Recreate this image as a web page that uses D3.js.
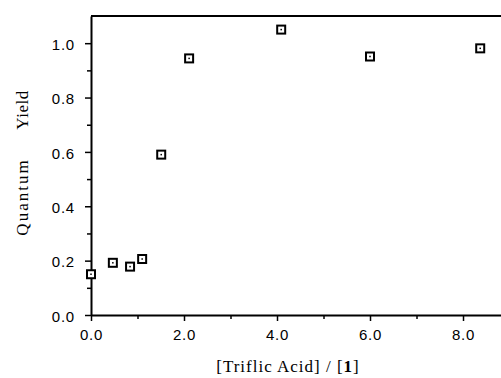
<!DOCTYPE html>
<html>
<head>
<meta charset="utf-8">
<script src="https://d3js.org/d3.v7.min.js"></script>
<style>
body { margin: 0; background: #fff; }
</style>
</head>
<body>
<script>
// values
let acidRatio = [0.0, 0.47, 0.84, 1.10, 1.51, 2.11, 4.09, 6.0, 8.37];
let quantumYield = [0.15, 0.192, 0.178, 0.206, 0.59, 0.944, 1.05, 0.951, 0.981];
let xTicks = [0, 2, 4, 6, 8];
let xMinor = [1, 3, 5, 7];
let yTicks = [0, 0.2, 0.4, 0.6, 0.8, 1.0];
let yMinor = [0.1, 0.3, 0.5, 0.7, 0.9];

let width = 501, height = 378;
let margin = {top: 16, right: 0, bottom: 63, left: 91};

let svg = d3.select("body").append("svg")
    .attr("width", width)
    .attr("height", height);

let x = d3.scaleLinear()
    .domain([0, 8.817])
    .range([margin.left, width - margin.right]);
let y = d3.scaleLinear()
    .domain([0, 1.1])
    .range([height - margin.bottom, margin.top]);

let tickFont = "'Liberation Sans', Arial, sans-serif";

let x_axis = g => g
    .attr("transform", `translate(0, ${height - margin.bottom})`)
    .call(d3.axisBottom(x).tickValues(xTicks).tickSize(6).tickSizeOuter(0).tickFormat(d3.format(".1f")))
    .call(g => g.select(".domain").attr("stroke-width", 2))
    .call(g => g.selectAll(".tick line").attr("stroke-width", 1.5))
    .call(g => g.selectAll(".tick text")
        .attr("font-size", 15).attr("font-family", tickFont)
        .attr("letter-spacing", 0.8).attr("y", 25).attr("dy", 0));

let x_minor = g => g
    .attr("transform", `translate(0, ${height - margin.bottom})`)
    .call(d3.axisBottom(x).tickValues(xMinor).tickSize(4).tickFormat(""))
    .call(g => g.select(".domain").remove())
    .call(g => g.selectAll(".tick line").attr("stroke-width", 1.5));

let y_axis = g => g
    .attr("transform", `translate(${margin.left}, 0)`)
    .call(d3.axisLeft(y).tickValues(yTicks).tickSize(6).tickSizeOuter(0).tickFormat(d3.format(".1f")))
    .call(g => g.select(".domain").attr("stroke-width", 2))
    .call(g => g.selectAll(".tick line").attr("stroke-width", 1.5))
    .call(g => g.selectAll(".tick text")
        .attr("font-size", 15).attr("font-family", tickFont)
        .attr("letter-spacing", 0.8).attr("x", -16).attr("dy", "0.42em"));

let y_minor = g => g
    .attr("transform", `translate(${margin.left}, 0)`)
    .call(d3.axisLeft(y).tickValues(yMinor).tickSize(4).tickFormat(""))
    .call(g => g.select(".domain").remove())
    .call(g => g.selectAll(".tick line").attr("stroke-width", 1.5));

svg.append("g").call(x_axis);
svg.append("g").call(x_minor);
svg.append("g").call(y_axis);
svg.append("g").call(y_minor);

// top frame line
svg.append("line")
    .attr("x1", x(0)).attr("x2", width)
    .attr("y1", y(1.1)).attr("y2", y(1.1))
    .attr("stroke", "black")
    .attr("stroke-width", 2);

// markers
let pts = acidRatio.map((v, i) => ({x: v, y: quantumYield[i]}));
let mk = svg.append("g").selectAll("g")
    .data(pts)
    .join("g")
    .attr("transform", d => `translate(${x(d.x)}, ${y(d.y)})`);
mk.append("rect")
    .attr("x", -4).attr("y", -4)
    .attr("width", 8).attr("height", 8)
    .attr("fill", "white")
    .attr("stroke", "black")
    .attr("stroke-width", 2);
mk.append("rect")
    .attr("x", -0.75).attr("y", -0.75)
    .attr("width", 1.5).attr("height", 1.5)
    .attr("fill", "black");

let serif = "'Liberation Serif', 'Times New Roman', serif";

// y title: two words with a wide gap
svg.append("text")
    .attr("transform", "translate(28, 197) rotate(-90)")
    .attr("text-anchor", "middle")
    .attr("font-family", serif)
    .attr("font-size", 17)
    .attr("letter-spacing", 2)
    .text("Quantum");
svg.append("text")
    .attr("transform", "translate(28, 110) rotate(-90)")
    .attr("text-anchor", "middle")
    .attr("font-family", serif)
    .attr("font-size", 17)
    .attr("letter-spacing", 0.5)
    .text("Yield");

let xl = svg.append("text")
    .attr("x", 288)
    .attr("y", 372)
    .attr("text-anchor", "middle")
    .attr("font-family", serif)
    .attr("font-size", 17)
    .attr("letter-spacing", 1);
xl.append("tspan").text("[Triflic Acid] / [");
xl.append("tspan").attr("font-weight", "bold").text("1");
xl.append("tspan").text("]");
</script>
</body>
</html>
